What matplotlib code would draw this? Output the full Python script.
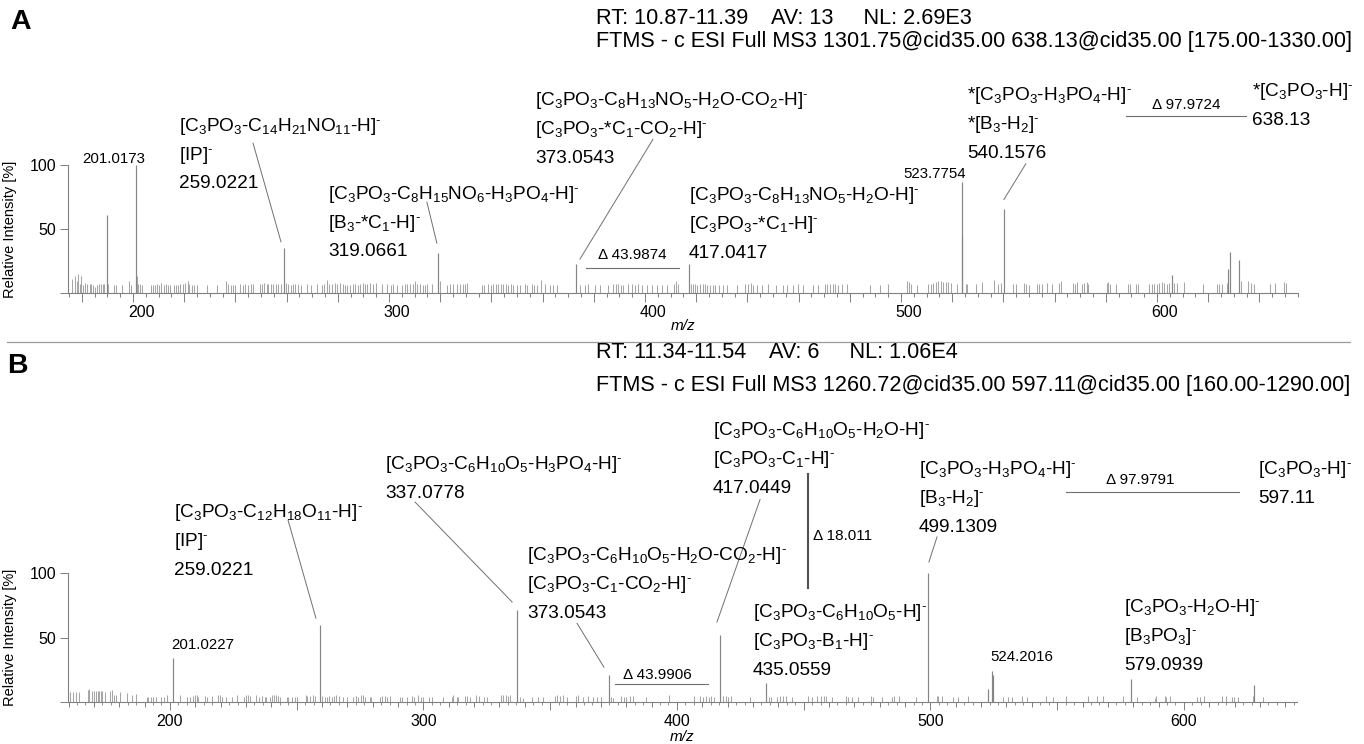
import matplotlib
matplotlib.use("Agg")
import matplotlib.pyplot as plt
import matplotlib.transforms as mtransforms
from matplotlib.lines import Line2D
from matplotlib.ticker import MultipleLocator, FuncFormatter

plt.rcParams["font.family"] = ["Liberation Sans", "DejaVu Sans"]
plt.rcParams["mathtext.fontset"] = "custom"
plt.rcParams["mathtext.rm"] = "Liberation Sans"
plt.rcParams["mathtext.it"] = "Liberation Sans:italic"
plt.rcParams["mathtext.bf"] = "Liberation Sans:bold"
plt.rcParams["mathtext.default"] = "regular"

W, H = 1364, 744
PEAK = "#858585"
NOISE = "#a6a6a6"
AXIS = "#808080"
LEAD = "#707070"

BIG, SMALL, DSIZE = 13.7, 10.8, 11
NEG = r"$^{\text{-}}$"

# ---------------- spectrum A : 1301.75 -> 638.13 ----------------
a_head = ["RT: 10.87-11.39    AV: 13     NL: 2.69E3",
          "FTMS - c ESI Full MS3 1301.75@cid35.00 638.13@cid35.00 [175.00-1330.00]"]
a_mz = [189.7, 201.0173, 259.0221, 319.0661, 373.0543, 417.0417,
        523.7754, 524.0, 540.1576, 605.9, 627.9, 628.5, 632.2]
a_int = [61, 100, 35, 31, 23, 23, 87, 45, 66, 14, 19, 32, 26]

a_noise_mz = [
    176.3, 177.2, 178.0, 178.6, 179.3, 179.7, 180.3, 181.4, 182.2, 183.0, 183.6, 184.2,
    185.2, 186.1, 186.7, 187.4, 188.2, 188.8, 190.4, 192.6, 193.4, 195.7, 198.6, 199.3,
    201.5, 202.0, 202.6, 203.4, 206.9, 207.7, 208.5, 209.2, 210.0, 210.8, 212.1, 212.9,
    213.8, 214.4, 216.1, 216.8, 217.7, 218.4, 219.4, 220.3, 221.4, 222.0, 222.9, 224.0,
    224.9, 228.8, 232.7, 236.2, 237.2, 238.2, 238.9, 240.0, 241.8, 242.8, 243.9, 245.0,
    246.0, 247.0, 249.6, 250.3, 251.2, 252.2, 252.9, 253.8, 254.8, 255.9, 256.8, 257.7,
    259.8, 260.7, 261.6, 262.6, 263.4, 264.3, 265.5, 267.8, 269.4, 271.7, 273.8, 274.7,
    275.6, 276.7, 277.6, 278.9, 279.8, 280.9, 281.9, 282.8, 283.7, 284.8, 285.8, 286.7,
    287.8, 288.7, 289.7, 290.6, 291.5, 292.6, 293.9, 294.9, 297.1, 299.3, 300.7, 301.7,
    303.2, 305.0, 306.2, 307.2, 308.2, 309.2, 310.2, 311.1, 312.1, 313.2, 314.1, 315.0,
    316.7, 319.9, 322.5, 323.8, 325.1, 326.4, 327.7, 328.8, 329.7, 330.6,
    336.2, 337.1, 338.8, 339.7, 340.8, 341.8, 342.7, 343.6, 344.7, 345.7, 346.6, 347.5,
    348.6, 349.9, 351.2, 353.1, 354.0, 355.7, 356.6, 357.7, 359.2, 360.9, 362.9, 364.2,
    365.8, 374.6, 376.6, 377.9, 380.5, 382.4, 385.7, 387.6, 388.5, 389.6, 390.5, 391.5,
    393.5, 394.8, 396.1, 397.4, 398.7, 400.7, 402.6, 404.6, 406.5, 408.7, 411.3, 412.1,
    413.0, 417.8, 418.6, 419.5, 420.4, 421.5, 422.5, 423.4, 424.3, 425.4, 426.4, 427.3,
    429.0, 430.6, 432.2, 435.8, 439.1, 440.4, 441.3, 442.3, 443.6, 445.6, 448.2, 451.2,
    454.0, 455.6, 457.9, 459.9, 461.9, 465.8, 467.7, 470.3, 471.2, 472.3, 473.3, 474.2,
    475.5, 476.8, 478.8, 487.9, 491.8,
    495.1, 502.5, 503.1, 503.9, 506.4, 510.7, 511.6, 512.6, 513.7, 514.6, 515.6, 516.5,
    517.5, 518.5, 519.4, 521.7, 525.4, 525.9, 529.3, 531.5, 536.3, 538.0, 538.9, 543.6,
    544.9, 548.1, 548.8, 550.1, 553.0, 554.0, 555.0, 556.9, 558.9, 561.9, 562.4, 567.1,
    568.0, 568.9, 570.6, 571.5, 572.8, 573.2, 580.3, 581.0, 581.6, 584.0, 588.8, 589.5,
    591.8, 592.7, 597.0, 597.9, 598.8, 599.9, 600.9, 601.8, 602.7, 603.8, 604.8, 606.6,
    607.7, 610.5, 617.8, 623.3, 624.4, 625.3, 627.5, 632.7, 635.7, 636.6, 637.9, 644.1,
    646.1, 649.6, 650.4]
a_noise_int = [
    11, 13, 9, 15, 7, 13, 6, 8, 7, 7, 7, 6,
    5, 6, 7, 7, 7, 7, 7, 6, 6, 6, 9, 6,
    13, 7, 7, 6, 6, 6, 6, 7, 6, 8, 6, 7,
    6, 6, 6, 6, 6, 7, 7, 8, 9, 7, 6, 6,
    6, 6, 6, 9, 7, 6, 6, 6, 7, 6, 7, 6,
    7, 7, 7, 7, 8, 7, 7, 7, 7, 7, 7, 7,
    8, 7, 6, 7, 7, 7, 6, 7, 6, 7, 6, 7,
    10, 7, 7, 8, 7, 8, 7, 6, 6, 6, 7, 7,
    6, 7, 8, 7, 7, 8, 7, 8, 7, 7, 6, 7,
    6, 6, 7, 7, 7, 7, 9, 7, 7, 6, 6, 7,
    7, 9, 6, 7, 7, 7, 7, 7, 7, 8,
    6, 6, 7, 6, 7, 7, 7, 7, 7, 7, 6, 7,
    6, 6, 6, 7, 6, 7, 6, 6, 10, 7, 6, 6,
    6, 6, 6, 7, 6, 6, 6, 7, 7, 7, 6, 6,
    7, 7, 6, 7, 6, 6, 6, 6, 6, 6, 7, 9,
    7, 7, 7, 7, 6, 7, 7, 7, 6, 6, 6, 6,
    6, 6, 6, 6, 7, 7, 8, 6, 6, 6, 7, 6,
    6, 6, 6, 7, 6, 6, 6, 7, 7, 7, 7, 7,
    6, 7, 7, 6, 6,
    7, 9, 8.6, 7, 6.5, 7, 7, 7.8, 8.6, 9, 9, 8.6,
    8.6, 8.6, 7.8, 7, 7, 7, 7, 8.6, 10.4, 7, 7.8, 7,
    7, 7.8, 7, 6.5, 7, 7, 7, 7.8, 7, 7.8, 9.6, 7.8,
    7, 8.6, 7, 7.8, 8.6, 7, 7.8, 8.6, 7, 7, 7, 7,
    7, 7, 7, 7, 7, 7, 7.8, 8.6, 7.8, 7, 7.8, 7.8,
    7.8, 8.6, 7, 7, 7, 7, 7.8, 9, 9.6, 7.8, 7, 7,
    7.8, 8.6, 7.8]

a_lab_mz = [201.0173, 259.0221, 319.0661, 373.0543, 417.0417, 523.7754, 540.1576]
a_lab_lines = [
    [],
    ["[C$_3$PO$_3$-C$_{14}$H$_{21}$NO$_{11}$-H]" + NEG, "[IP]" + NEG],
    ["[C$_3$PO$_3$-C$_8$H$_{15}$NO$_6$-H$_3$PO$_4$-H]" + NEG, "[B$_3$-*C$_1$-H]" + NEG],
    ["[C$_3$PO$_3$-C$_8$H$_{13}$NO$_5$-H$_2$O-CO$_2$-H]" + NEG, "[C$_3$PO$_3$-*C$_1$-CO$_2$-H]" + NEG],
    ["[C$_3$PO$_3$-C$_8$H$_{13}$NO$_5$-H$_2$O-H]" + NEG, "[C$_3$PO$_3$-*C$_1$-H]" + NEG],
    [],
    ["*[C$_3$PO$_3$-H$_3$PO$_4$-H]" + NEG, "*[B$_3$-H$_2$]" + NEG],
]
a_prec_mz = 638.13
a_prec_lines = ["*[C$_3$PO$_3$-H]" + NEG]

# label block anchors (m/z, % of first line centre)
a_lab_xy = [(180.1, 106), (218.0, 132), (276.2, 79), (357.0, 152), (417.2, 78),
            (500.8, 94), (525.8, 156)]
a_prec_xy = (637.1, 159)
a_leaders = [((246.9, 117), (257.8, 40)), ((314.8, 71), (318.7, 39)),
             ((403.1, 120), (374.6, 26.5)), ((548.8, 101), (540.2, 73))]
a_deltas = [(373.0543, 417.0417, "h", (376.9, 413.3, 19.5), (395.2, 30)),
            (540.1576, 638.13, "h", (587.9, 634.8, 138), (611.3, 147))]

# ---------------- spectrum B : 1260.72 -> 597.11 ----------------
b_head = ["RT: 11.34-11.54    AV: 6     NL: 1.06E4",
          "FTMS - c ESI Full MS3 1260.72@cid35.00 597.11@cid35.00 [160.00-1290.00]"]
b_mz = [201.0227, 259.0221, 337.0778, 373.0543, 417.0449, 435.0559,
        499.1309, 522.8, 524.2016, 524.6, 579.0939, 627.8]
b_int = [34, 60, 71, 21, 52, 15, 100, 10, 24, 21, 18, 13]

b_noise_mz = [
    159.9, 160.5, 161.6, 162.9, 164.2, 167.8, 168.2, 169.1, 170.0, 170.8, 171.5, 172.1,
    172.8, 173.4, 174.4, 176.3, 177.0, 178.0, 178.7, 180.3, 182.9, 184.9, 186.6, 190.8,
    191.4, 192.4, 193.4, 194.7, 196.3, 197.6, 198.7, 203.9, 206.8, 207.9, 209.2, 209.9,
    210.5, 211.2, 213.8, 214.7, 216.8, 218.8, 219.7, 220.6, 222.3, 224.3, 226.3, 229.3,
    230.0, 230.9, 231.5, 233.9, 235.2, 236.2, 237.5, 238.1, 239.4, 240.4, 241.0, 241.8,
    242.7, 243.4, 246.0, 246.7, 248.0, 249.3, 250.2, 253.6, 254.2, 255.2, 256.3, 257.2,
    260.0, 261.1, 261.8, 262.8, 263.8, 264.7, 265.7, 266.8, 268.1, 269.9, 272.3, 273.4,
    274.3, 275.2, 276.0, 276.9, 278.9, 279.5, 282.8, 283.5, 284.8, 285.7, 286.8, 290.7,
    291.4, 293.4, 295.3, 296.2, 298.0, 298.9, 299.9, 302.3, 303.2, 307.6, 311.1, 311.8,
    313.1, 313.7, 316.4, 317.3, 318.3, 320.7, 322.0, 323.8, 324.9, 330.8, 331.5, 332.5,
    333.4, 334.3, 338.0, 339.3, 343.0, 345.3, 347.2, 351.8, 352.8, 353.8, 355.1, 356.7,
    360.1, 361.0, 363.0, 365.0, 367.0, 368.3, 370.2, 374.0, 374.9, 378.1, 379.0, 380.1,
    381.4, 382.5, 387.7, 396.9, 406.7, 409.0, 410.3, 411.3, 412.7, 413.6, 414.7, 418.2,
    419.2, 420.1, 421.5, 428.8, 436.5, 437.3, 439.3, 440.6, 441.9, 443.2, 445.2, 451.8,
    453.1, 455.1, 457.0, 457.9, 458.7, 461.0, 466.6, 467.5, 468.9, 471.5, 476.7, 477.4,
    480.7, 484.7, 485.6, 487.6, 494.3, 502.5, 503.1, 504.4, 508.8, 511.0, 515.0, 528.5,
    530.5, 532.0, 536.0, 538.2, 545.5, 548.2, 553.5, 562.3, 565.6, 567.9, 576.1, 581.4,
    588.6, 589.0, 592.5, 592.9, 594.5, 605.0, 606.3, 607.9, 614.9, 616.5, 618.8, 619.7,
    621.5, 627.1, 631.3]
b_noise_int = [
    7.8, 7.8, 7.8, 7.8, 7.8, 9, 10.3, 8.3, 8.3, 8.3, 8.3, 8.3,
    8.3, 8.3, 7.8, 8.3, 9, 5.2, 5.7, 7.8, 7.2, 5.7, 6.5, 3.9,
    3.9, 3.9, 3.9, 3.9, 3.9, 3.9, 5.2, 5.2, 3.9, 3.9, 4.7, 5.2,
    5.2, 3.9, 4.7, 3.9, 4.7, 5.2, 5.2, 3.9, 3.9, 3.9, 5.2, 3.9,
    5.2, 5.2, 4.7, 5.2, 3.9, 4.7, 3.9, 3.9, 3.9, 5.7, 5.2, 5.2,
    4.7, 3.9, 3.9, 3.9, 3.9, 3.9, 3.9, 5.2, 4.7, 4.7, 5.2, 4.7,
    4.7, 3.9, 3.9, 4.7, 3.9, 4.7, 5.2, 4.7, 3.9, 3.9, 3.9, 4.7,
    3.9, 5.7, 5.2, 3.9, 3.9, 3.9, 3.9, 4.7, 4.7, 3.9, 4.7, 3.9,
    3.9, 3.9, 4.7, 3.9, 5.2, 3.9, 3.9, 3.9, 3.9, 3.9, 3.9, 5.2,
    3.9, 3.9, 4.7, 4.7, 3.9, 5.2, 4.7, 3.9, 3.9, 5.2, 5.2, 5.2,
    4.7, 5.2, 3.9, 3.1, 3.9, 3.9, 3.9, 4.7, 5.2, 4.7, 5.2, 3.9,
    4.7, 5.2, 3.9, 4.7, 3.9, 3.9, 3.9, 3.9, 3.1, 4.7, 3.9, 3.9,
    4.7, 4.7, 3.9, 5.7, 4.7, 4.7, 3.9, 4.7, 3.9, 4.7, 3.9, 4.7,
    4.7, 3.9, 4.7, 3.9, 3.9, 3.9, 3.9, 4.7, 4.7, 4.7, 3.9, 4.7,
    3.9, 4.7, 4.7, 4.7, 4.7, 3.9, 4.7, 3.9, 3.9, 3.9, 4.7, 3.9,
    3.9, 3.9, 4.7, 4.7, 3.9, 4.7, 4.7, 4.7, 3.9, 3.9, 4.7, 3.9,
    3.9, 3.9, 4.7, 3.9, 4.7, 3.9, 4.7, 4.7, 4.7, 4.7, 4.7, 3.9,
    3.1, 4.7, 4.7, 3.9, 4.7, 3.9, 3.9, 4.7, 4.7, 4.7, 3.9, 3.9,
    3.9, 4.7, 3.9]

b_lab_mz = [201.0227, 259.0221, 337.0778, 373.0543, 417.0449, 435.0559,
            499.1309, 524.2016, 579.0939]
b_lab_lines = [
    [],
    ["[C$_3$PO$_3$-C$_{12}$H$_{18}$O$_{11}$-H]" + NEG, "[IP]" + NEG],
    ["[C$_3$PO$_3$-C$_6$H$_{10}$O$_5$-H$_3$PO$_4$-H]" + NEG],
    ["[C$_3$PO$_3$-C$_6$H$_{10}$O$_5$-H$_2$O-CO$_2$-H]" + NEG, "[C$_3$PO$_3$-C$_1$-CO$_2$-H]" + NEG],
    ["[C$_3$PO$_3$-C$_6$H$_{10}$O$_5$-H$_2$O-H]" + NEG, "[C$_3$PO$_3$-C$_1$-H]" + NEG],
    ["[C$_3$PO$_3$-C$_6$H$_{10}$O$_5$-H]" + NEG, "[C$_3$PO$_3$-B$_1$-H]" + NEG],
    ["[C$_3$PO$_3$-H$_3$PO$_4$-H]" + NEG, "[B$_3$-H$_2$]" + NEG],
    [],
    ["[C$_3$PO$_3$-H$_2$O-H]" + NEG, "[B$_3$PO$_3$]" + NEG],
]
b_prec_mz = 597.11
b_prec_lines = ["[C$_3$PO$_3$-H]" + NEG]

b_lab_xy = [(200.4, 45), (201.6, 149), (284.9, 186), (340.9, 115.5), (414.2, 212),
            (430.0, 71), (495.5, 182), (523.5, 36), (576.4, 75)]
b_prec_xy = (629.2, 182)
b_leaders = [((246.6, 141), (257.6, 65)), ((296.7, 155), (335.0, 77.5)),
             ((360.6, 61), (371.2, 27)), ((432.8, 157), (415.8, 62)),
             ((502.6, 128), (499.4, 108.5))]
b_deltas = [(373.0543, 417.0449, "h", (375.6, 412.3, 14), (392.1, 21)),
            (417.0449, 435.0559, "v", (451.7, 177, 88), (453.7, 129)),
            (499.1309, 597.11, "h", (553.5, 621.7, 163), (582.7, 172))]

LINE_STEP = 22.5   # % between label lines


def fmt_delta(lo, hi):
    return "Δ " + f"{hi - lo:.4f}".rstrip("0")


def label_block(ax, x, y, lines, size):
    for i, s in enumerate(lines):
        ax.annotate(s, (x, y - i * LINE_STEP), xytext=(0, -0.36 * size),
                    textcoords="offset points", va="baseline", ha="left",
                    fontsize=size, annotation_clip=False)


def draw_spectrum(ax, xlim, mz, inten, noise_mz, noise_int, lab_mz, lab_lines, lab_xy,
                  prec_mz, prec_lines, prec_xy, leaders, deltas):
    ax.vlines(noise_mz, 0, noise_int, colors=NOISE, lw=0.75)
    ax.vlines(mz, 0, inten, colors=PEAK, lw=0.85, clip_on=False)
    ax.set_xlim(*xlim)
    ax.set_ylim(0, 100)

    for m, lines, (x, y) in zip(lab_mz, lab_lines, lab_xy):
        if lines:
            label_block(ax, x, y, lines + [f"{m:.4f}"], BIG)
        else:
            label_block(ax, x, y, [f"{m:.4f}"], SMALL)
    label_block(ax, prec_xy[0], prec_xy[1], prec_lines + [f"{prec_mz:.2f}"], BIG)

    for (x0, y0), (x1, y1) in leaders:
        ax.plot([x0, x1], [y0, y1], color=LEAD, lw=0.7, clip_on=False)

    for lo, hi, kind, seg, (tx, ty) in deltas:
        if kind == "h":
            ax.plot([seg[0], seg[1]], [seg[2], seg[2]], color=LEAD, lw=0.8, clip_on=False)
            ax.text(tx, ty, fmt_delta(lo, hi), fontsize=DSIZE, ha="center", va="center")
        else:
            ax.plot([seg[0], seg[0]], [seg[1], seg[2]], color="#505050", lw=1.5, clip_on=False)
            ax.text(tx, ty, fmt_delta(lo, hi), fontsize=DSIZE, ha="left", va="center")

    for s in ("top", "right"):
        ax.spines[s].set_visible(False)
    for s in ("left", "bottom"):
        ax.spines[s].set_color(AXIS)
        ax.spines[s].set_linewidth(0.8)

    ax.set_yticks([0, 50, 100])
    ax.set_yticklabels(["", "50", "100"])
    ax.tick_params(axis="y", length=5.8, width=0.7, color=AXIS, pad=2.5, labelsize=11.5)
    ax.set_ylabel("Relative Intensity [%]", fontsize=10.5)
    ax.yaxis.set_label_coords(-0.0415, 0.5)
    ax.set_xlabel("m/z", fontsize=11, style="italic")


hundreds = FuncFormatter(lambda v, p: f"{v:.0f}" if abs(v % 100) < 1e-6 else "")

fig = plt.figure(figsize=(W / 100, H / 100), dpi=100)

# panel A
axA = fig.add_axes([68 / W, 1 - 293 / H, 1230 / W, 128 / H])
draw_spectrum(axA, (174.6, 655.1), a_mz, a_int, a_noise_mz, a_noise_int,
              a_lab_mz, a_lab_lines, a_lab_xy, a_prec_mz, a_prec_lines, a_prec_xy,
              a_leaders, a_deltas)
axA.xaxis.set_major_locator(MultipleLocator(20))
axA.xaxis.set_minor_locator(MultipleLocator(5))
axA.xaxis.set_major_formatter(hundreds)
axA.tick_params(axis="x", which="major", length=6.5, width=0.7, color=AXIS, pad=2, labelsize=11.5)
axA.tick_params(axis="x", which="minor", length=3.2, width=0.7, color=AXIS)
shift = mtransforms.ScaledTranslation(0.08, 0, fig.dpi_scale_trans)
for lbl in axA.get_xticklabels():
    lbl.set_transform(lbl.get_transform() + shift)
axA.xaxis.set_label_coords(0.5, -0.2)

# panel B
axB = fig.add_axes([68 / W, 1 - 702 / H, 1229 / W, 129 / H])
draw_spectrum(axB, (159.8, 644.6), b_mz, b_int, b_noise_mz, b_noise_int,
              b_lab_mz, b_lab_lines, b_lab_xy, b_prec_mz, b_prec_lines, b_prec_xy,
              b_leaders, b_deltas)
axB.xaxis.set_major_locator(MultipleLocator(50))
axB.xaxis.set_minor_locator(MultipleLocator(10 / 3))
axB.xaxis.set_major_formatter(hundreds)
axB.tick_params(axis="x", which="major", length=5.8, width=0.7, color=AXIS, pad=2.5, labelsize=11.5)
axB.tick_params(axis="x", which="minor", length=1.8, width=0.6, color=AXIS)
sec = axB.secondary_xaxis("bottom")
sec.set_xticks(list(range(160, 650, 10)))
sec.tick_params(length=3.5, width=0.7, color=AXIS, labelbottom=False)
sec.spines["bottom"].set_visible(False)
axB.xaxis.set_label_coords(0.5, -0.215)

# headers, panel letters, divider
for head, y1, y2 in ((a_head, 18, 42), (b_head, 352, 385)):
    fig.text(596 / W, 1 - y1 / H, head[0], fontsize=15.6, va="center")
    fig.text(596 / W, 1 - y2 / H, head[1], fontsize=15.6, va="center")
fig.text(10 / W, 1 - 22 / H, "A", fontsize=20.5, weight="bold", va="center")
fig.text(7 / W, 1 - 366 / H, "B", fontsize=20.5, weight="bold", va="center")
fig.add_artist(Line2D([7 / W, 1350 / W], [1 - 342 / H, 1 - 342 / H], color="#9a9a9a", lw=0.9))

fig.savefig("out.png", dpi=100)
